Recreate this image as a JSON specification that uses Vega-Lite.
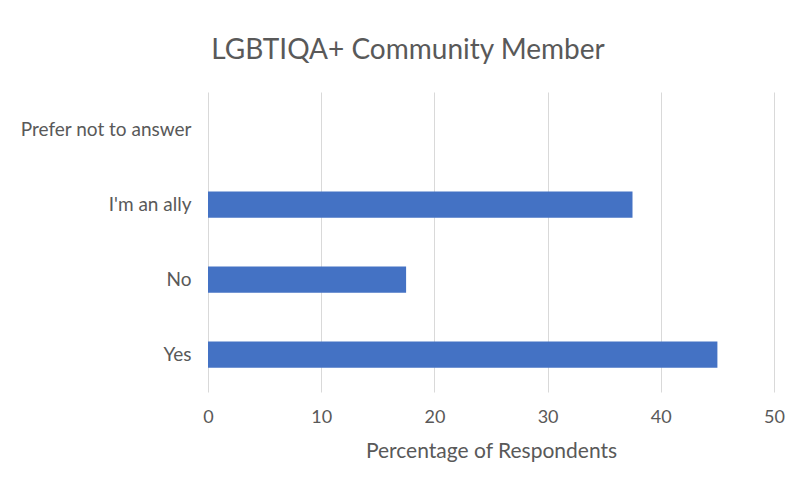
{
  "$schema": "https://vega.github.io/schema/vega-lite/v6.json",
  "autosize": {"type": "none"},
  "width": 566,
  "height": 300,
  "padding": {"left": 208, "top": 92, "right": 24, "bottom": 94},
  "background": "white",
  "title": {
    "text": "LGBTIQA+ Community Member",
    "fontSize": 28,
    "font": "Lato",
    "fontWeight": "normal",
    "color": "#595959",
    "anchor": "middle",
    "baseline": "alphabetic",
    "offset": 5,
    "dx": -83
  },
  "data": {
    "values": [
      {"response": "Prefer not to answer", "pct": 0},
      {"response": "I'm an ally", "pct": 37.5},
      {"response": "No", "pct": 17.5},
      {"response": "Yes", "pct": 45}
    ]
  },
  "mark": {"type": "bar", "color": "#4472C4"},
  "encoding": {
    "y": {
      "field": "response",
      "type": "nominal",
      "sort": ["Prefer not to answer", "I'm an ally", "No", "Yes"],
      "scale": {"paddingInner": 0.65, "paddingOuter": 0.325},
      "axis": {
        "title": null,
        "domain": false,
        "ticks": false,
        "labelPadding": 17,
        "labelFont": "Lato",
        "labelFontSize": 19,
        "labelColor": "#595959"
      }
    },
    "x": {
      "field": "pct",
      "type": "quantitative",
      "scale": {"domain": [0, 50]},
      "axis": {
        "title": "Percentage of Respondents",
        "values": [0, 10, 20, 30, 40, 50],
        "domain": false,
        "ticks": false,
        "grid": true,
        "gridColor": "#d9d9d9",
        "gridWidth": 1,
        "labelFlush": false,
        "labelPadding": 16,
        "labelFont": "Lato",
        "labelFontSize": 18,
        "labelColor": "#595959",
        "titleFont": "Lato",
        "titleFontSize": 21,
        "titleFontWeight": "normal",
        "titleColor": "#595959",
        "titlePadding": 14
      }
    }
  },
  "config": {"view": {"stroke": null}}
}
